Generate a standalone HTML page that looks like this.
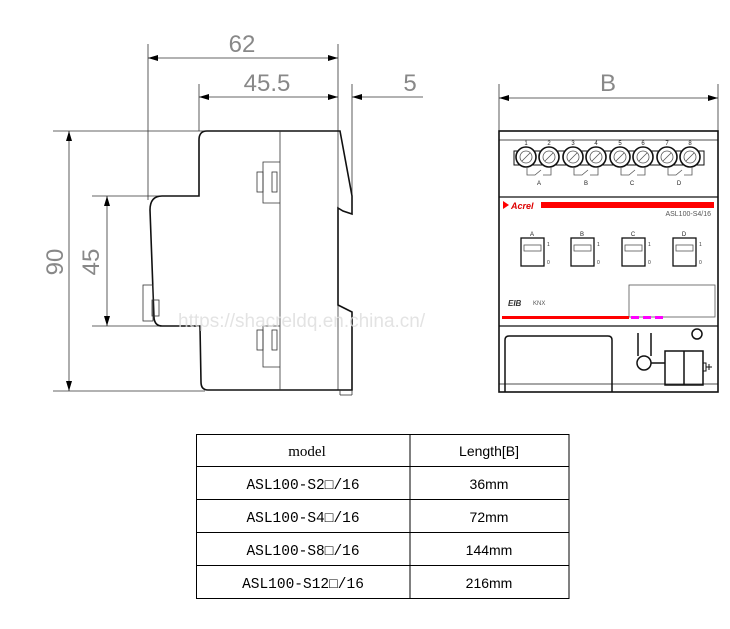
<!DOCTYPE html>
<html><head><meta charset="utf-8"><style>
html,body{margin:0;padding:0;background:#fff;}
svg{display:block;}
</style></head><body>
<svg width="730" height="629" viewBox="0 0 730 629" xmlns="http://www.w3.org/2000/svg">
<defs>
<marker id="a" viewBox="0 0 10 6" refX="10" refY="3" markerWidth="10" markerHeight="6" orient="auto-start-reverse" markerUnits="userSpaceOnUse"><path d="M0,0L10,3L0,6z" fill="#000"/></marker>
</defs>
<g stroke="#333" stroke-width="0.8" fill="none">
<line x1="148" y1="44" x2="148" y2="200"/>
<line x1="338" y1="44" x2="338" y2="390"/>
<line x1="199" y1="84" x2="199" y2="131"/>
<line x1="352" y1="84" x2="352" y2="200"/>
<line x1="53" y1="131" x2="205" y2="131"/>
<line x1="53" y1="391" x2="205" y2="391"/>
<line x1="92" y1="196" x2="160" y2="196"/>
<line x1="92" y1="326" x2="160" y2="326"/>
<line x1="148" y1="58" x2="338" y2="58" marker-start="url(#a)" marker-end="url(#a)"/>
<line x1="199" y1="97" x2="338" y2="97" marker-start="url(#a)" marker-end="url(#a)"/>
<line x1="423" y1="97" x2="352" y2="97" marker-end="url(#a)"/>
<line x1="69" y1="131" x2="69" y2="391" marker-start="url(#a)" marker-end="url(#a)"/>
<line x1="107" y1="196" x2="107" y2="326" marker-start="url(#a)" marker-end="url(#a)"/>
<line x1="499" y1="98" x2="718" y2="98" marker-start="url(#a)" marker-end="url(#a)"/>
<line x1="499" y1="84" x2="499" y2="131"/>
<line x1="718" y1="84" x2="718" y2="131"/>
</g>
<g font-family="Liberation Sans, sans-serif" fill="#888" font-size="24">
<text x="242" y="52" text-anchor="middle">62</text>
<text x="267" y="91" text-anchor="middle">45.5</text>
<text x="410" y="91" text-anchor="middle">5</text>
<text x="608" y="91" text-anchor="middle">B</text>
<text transform="translate(63,262) rotate(-90)" text-anchor="middle">90</text>
<text transform="translate(99,262) rotate(-90)" text-anchor="middle">45</text>
</g>
<g stroke="#111" stroke-width="1.6" fill="none">
<path d="M207,131 L340,131 L352,196 L352,214 L343,211 L338,208 L338,305 L344,308 L352,312 L352,390 L208,390 Q201,390 201,382 L200,326 L162,326 Q155,326 154,318 L150,210 Q150,196 162,196 L199,196 L199,140 Q199,131 207,131 Z"/>
</g>
<g stroke="#333" stroke-width="0.8" fill="none">
<line x1="280" y1="131" x2="280" y2="390"/>
<path d="M280,162 L263,162 L263,203 L280,203"/><rect x="272" y="172" width="5" height="20"/><rect x="257" y="172" width="6" height="20"/>
<path d="M280,326 L263,326 L263,367 L280,367"/><rect x="272" y="330" width="5" height="20"/><rect x="257" y="330" width="6" height="20"/>
<rect x="143" y="285" width="10" height="36"/><rect x="152" y="300" width="7" height="16"/>
<line x1="340" y1="390" x2="340" y2="395"/><line x1="352" y1="390" x2="352" y2="395"/><line x1="340" y1="395" x2="352" y2="395"/>
</g>
<g stroke="#111" fill="none">
<rect x="499" y="131" width="219" height="261" stroke-width="1.6"/>
<line x1="499" y1="140" x2="718" y2="140" stroke-width="0.8"/>
<line x1="499" y1="197" x2="718" y2="197" stroke-width="1.2"/>
<line x1="499" y1="326" x2="718" y2="326" stroke-width="1.2"/>
<line x1="499" y1="384" x2="718" y2="384" stroke-width="0.8"/>
<rect x="514" y="151" width="190" height="14" stroke-width="1"/>
</g>
<g stroke="#111" stroke-width="1.6" fill="#fff">
<circle cx="526" cy="157" r="10"/><circle cx="549" cy="157" r="10"/>
<circle cx="573" cy="157" r="10"/><circle cx="596" cy="157" r="10"/>
<circle cx="620" cy="157" r="10"/><circle cx="643" cy="157" r="10"/>
<circle cx="667" cy="157" r="10"/><circle cx="690" cy="157" r="10"/>
</g>
<g stroke="#555" stroke-width="0.8" fill="#fff">
<circle cx="526" cy="157" r="6"/><circle cx="549" cy="157" r="6"/>
<circle cx="573" cy="157" r="6"/><circle cx="596" cy="157" r="6"/>
<circle cx="620" cy="157" r="6"/><circle cx="643" cy="157" r="6"/>
<circle cx="667" cy="157" r="6"/><circle cx="690" cy="157" r="6"/>
</g>
<g stroke="#555" stroke-width="0.8" fill="none">
<path d="M522,161l8,-8M545,161l8,-8M569,161l8,-8M592,161l8,-8M616,161l8,-8M639,161l8,-8M663,161l8,-8M686,161l8,-8"/>
<path d="M527,167v8h8l6,-5M543,175h8v-8"/>
<path d="M574,167v8h8l6,-5M590,175h8v-8"/>
<path d="M621,167v8h8l6,-5M637,175h8v-8"/>
<path d="M668,167v8h8l6,-5M684,175h8v-8"/>
</g>
<g font-family="Liberation Sans, sans-serif" font-size="6" fill="#222" text-anchor="middle">
<text x="539" y="185">A</text><text x="586" y="185">B</text><text x="632" y="185">C</text><text x="679" y="185">D</text>
<text x="526" y="145">1</text><text x="549" y="145">2</text><text x="573" y="145">3</text><text x="596" y="145">4</text><text x="620" y="145">5</text><text x="643" y="145">6</text><text x="667" y="145">7</text><text x="690" y="145">8</text>
<text x="532" y="236">A</text><text x="582" y="236">B</text><text x="633" y="236">C</text><text x="684" y="236">D</text>
</g>
<rect x="541" y="202" width="173" height="6" fill="#f00"/>
<path d="M503,201l6,4l-6,4z" fill="#f00"/>
<text x="511" y="209" font-family="Liberation Sans, sans-serif" font-size="9" font-style="italic" font-weight="bold" fill="#d00">Acrel</text>
<text x="711" y="216" font-family="Liberation Sans, sans-serif" font-size="7" fill="#555" text-anchor="end">ASL100-S4/16</text>
<g stroke="#111" stroke-width="1.3" fill="none">
<rect x="521" y="238" width="23" height="28"/><rect x="571" y="238" width="23" height="28"/>
<rect x="622" y="238" width="23" height="28"/><rect x="673" y="238" width="23" height="28"/>
</g>
<g stroke="#555" stroke-width="0.8" fill="none">
<rect x="524" y="245" width="17" height="6"/><rect x="574" y="245" width="17" height="6"/>
<rect x="625" y="245" width="17" height="6"/><rect x="676" y="245" width="17" height="6"/>
<rect x="629" y="285" width="86" height="32"/>
</g>
<g font-family="Liberation Sans, sans-serif" font-size="5" fill="#333">
<text x="547" y="246">1</text><text x="547" y="264">0</text><text x="597" y="246">1</text><text x="597" y="264">0</text>
<text x="648" y="246">1</text><text x="648" y="264">0</text><text x="699" y="246">1</text><text x="699" y="264">0</text>
</g>
<text x="508" y="306" font-family="Liberation Sans, sans-serif" font-size="8" font-style="italic" font-weight="bold" fill="#333">EIB</text>
<text x="533" y="305" font-family="Liberation Sans, sans-serif" font-size="6" fill="#555">KNX</text>
<rect x="502" y="316" width="127" height="3" fill="#f00"/>
<g fill="#f0f"><rect x="631" y="316" width="8" height="3"/><rect x="643" y="316" width="8" height="3"/><rect x="655" y="316" width="8" height="3"/></g>
<g stroke="#111" stroke-width="1.5" fill="none">
<path d="M505,392 V340 Q505,336 509,336 H608 Q612,336 612,340 V392"/>
<circle cx="697" cy="334" r="5"/>
<path d="M638,333 V356 M651,333 V356"/>
<circle cx="644" cy="363" r="7"/>
<rect x="665" y="351" width="38" height="34"/>
<line x1="684" y1="351" x2="684" y2="385"/>
<path d="M651,363 H665"/>
<path d="M703,363 h3 v8 h-3 M706,367 h6 M709,364 v6" stroke-width="1"/>
</g>
<text x="178" y="327" font-family="Liberation Sans, sans-serif" font-size="19" fill="#ddd" opacity="0.8">https://shacreldq.en.china.cn/</text>
<g stroke="#000" stroke-width="1" fill="none">
<rect x="196.5" y="434.5" width="372.5" height="164"/>
<line x1="410" y1="434.5" x2="410" y2="598.5"/>
<line x1="196.5" y1="466.5" x2="569" y2="466.5"/>
<line x1="196.5" y1="499.5" x2="569" y2="499.5"/>
<line x1="196.5" y1="532.5" x2="569" y2="532.5"/>
<line x1="196.5" y1="565.5" x2="569" y2="565.5"/>
</g>
<text x="307" y="456" font-family="Liberation Serif, serif" font-size="15" fill="#000" text-anchor="middle">model</text>
<g font-family="Liberation Mono, 'Noto Sans CJK SC', monospace" font-size="14.5" fill="#000" text-anchor="middle">
<text x="303" y="489">ASL100-S2□/16</text>
<text x="303" y="522">ASL100-S4□/16</text>
<text x="303" y="555">ASL100-S8□/16</text>
<text x="303" y="588">ASL100-S12□/16</text>
</g>
<g font-family="Liberation Sans, sans-serif" font-size="14" fill="#000" text-anchor="middle">
<text x="489" y="456">Length[B]</text>
<text x="489" y="489">36mm</text>
<text x="489" y="522">72mm</text>
<text x="489" y="555">144mm</text>
<text x="489" y="588">216mm</text>
</g>
</svg>
</body></html>
